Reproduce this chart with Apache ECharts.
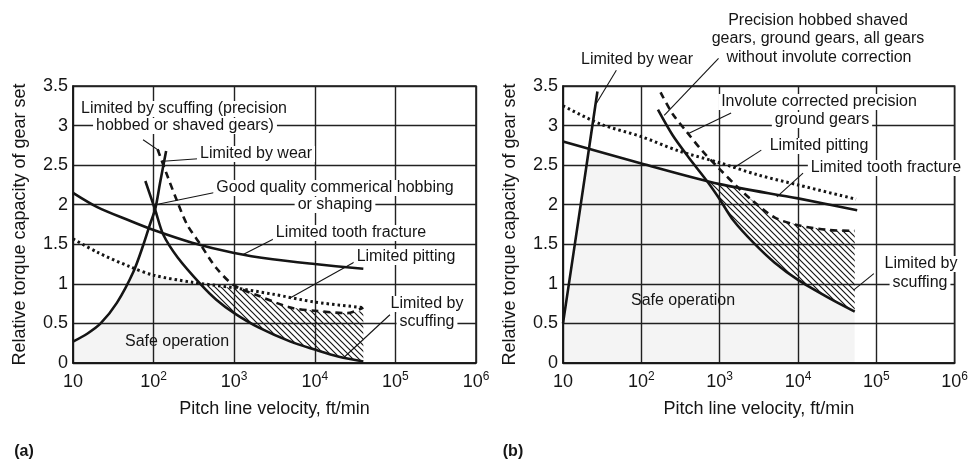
<!DOCTYPE html>
<html>
<head>
<meta charset="utf-8">
<script src="https://cdn.jsdelivr.net/npm/echarts@6/dist/echarts.min.js"></script>
<style>
  html, body { margin: 0; padding: 0; background: #fff; }
  #chart { width: 971px; height: 460px; }
</style>
</head>
<body>
<div id="chart"></div>
<script>
// x tick exponents (10^1 .. 10^6)
const xExponents = [1, 2, 3, 4, 5, 6];

// ---- panel (a) ----
const fractureA = [[10, 2.15], [20, 1.97], [50, 1.8], [100, 1.68], [300, 1.52], [1000, 1.39], [3000, 1.31], [10000, 1.25], [40000, 1.19]];
const pittingA = [[10, 1.57], [20, 1.4], [50, 1.22], [100, 1.11], [300, 1.02], [1000, 0.95], [3000, 0.87], [10000, 0.77], [40000, 0.7]];
const wearA = [[10, 0.27], [15, 0.37], [22, 0.5], [35, 0.76], [56, 1.15], [75, 1.5], [90, 1.75], [105, 1.95], [120, 2.27], [143, 2.68]];
const commercialA = [[79, 2.3], [105, 1.93], [132, 1.62], [200, 1.33], [380, 1.0], [600, 0.8], [1000, 0.63], [2000, 0.45], [5000, 0.27], [10000, 0.17], [20000, 0.08], [40000, 0.02]];
const precisionA = [[112, 2.7], [150, 2.35], [195, 2.05], [260, 1.75], [380, 1.5], [600, 1.2], [1000, 0.98], [2000, 0.85], [5000, 0.7], [10000, 0.66], [25000, 0.63], [40000, 0.7]];
const hatchA = [[415, 0.98], [1000, 0.95], [1300, 0.92], [2000, 0.85], [5000, 0.7], [10000, 0.66], [25000, 0.63], [40000, 0.66],
  [40000, 0.02], [20000, 0.08], [10000, 0.17], [5000, 0.27], [2000, 0.45], [1000, 0.63], [600, 0.8], [415, 0.97]];
const safeA = [[10, 0.27], [15, 0.37], [22, 0.5], [35, 0.76], [56, 1.15], [62, 1.19], [100, 1.11], [300, 1.02], [400, 0.99],
  [600, 0.8], [1000, 0.63], [2000, 0.45], [5000, 0.27], [10000, 0.17], [20000, 0.08], [40000, 0.02], [40000, 0], [10, 0]];

// ---- panel (b) ----
const fractureB = [[10, 2.8], [100, 2.52], [1000, 2.26], [10000, 2.08], [57000, 1.93]];
const pittingB = [[10, 3.25], [30, 3.02], [100, 2.86], [300, 2.68], [1000, 2.53], [3000, 2.38], [10000, 2.25], [55000, 2.07]];
const wearB = [[10, 0.5], [16.6, 1.96], [27.5, 3.43]];
const precisionB = [[163, 3.2], [250, 2.88], [400, 2.6], [700, 2.29], [1000, 2.07], [1500, 1.8], [2700, 1.52], [5000, 1.27], [10000, 1.05], [25000, 0.82], [53000, 0.65]];
const involuteB = [[176, 3.42], [250, 3.15], [380, 2.92], [600, 2.68], [1000, 2.45], [1700, 2.22], [2500, 2.07], [5000, 1.84], [10000, 1.74], [25000, 1.68], [53000, 1.67]];
const hatchB = [[710, 2.29], [1000, 2.26], [1700, 2.21], [2500, 2.07], [5000, 1.84], [10000, 1.74], [25000, 1.68], [53000, 1.67],
  [53000, 0.65], [25000, 0.82], [10000, 1.05], [5000, 1.27], [2700, 1.52], [1500, 1.8], [1000, 2.07], [710, 2.28]];
const safeB = [[10, 0.5], [21.4, 2.7], [100, 2.52], [710, 2.29], [1000, 2.07], [1500, 1.8], [2700, 1.52], [5000, 1.27],
  [10000, 1.05], [25000, 0.82], [53000, 0.65], [53000, 0], [10, 0]];

// leader lines (from label to curve), in data units
const leadersA = [[74, 2.82, 118, 2.68], [357, 2.58, 131, 2.55], [614, 2.16, 105, 2.0], [3400, 1.59, 1290, 1.37], [31500, 1.28, 4930, 0.82], [85500, 0.61, 22400, 0.06]];
const leadersB = [[968, 3.85, 196, 3.13], [48, 3.7, 26.6, 3.28], [1400, 3.16, 400, 2.9], [3400, 2.69, 1486, 2.46], [11600, 2.4, 5370, 2.1], [93000, 1.13, 51200, 0.92]];

const FONT = '"Liberation Sans", Arial, Helvetica, sans-serif';
const INK = '#151515';

// diagonal hatch tile for the scuffing bands
function hatchPattern() {
  const s = 6;
  const c = document.createElement('canvas');
  c.width = s; c.height = s;
  const g = c.getContext('2d');
  g.strokeStyle = '#151515';
  g.lineWidth = 1.15;
  g.beginPath();
  g.moveTo(-1, -1); g.lineTo(s + 1, s + 1);
  g.moveTo(-1, s - 1); g.lineTo(1, s + 1);
  g.moveTo(s - 1, -1); g.lineTo(s + 1, 1);
  g.stroke();
  return c;
}
const hatch = hatchPattern();

function xAxisFor(i) {
  return {
    type: 'log', logBase: 10, min: 10, max: 1e6, gridIndex: i,
    axisLine: { show: true, lineStyle: { color: INK, width: 1.5 } },
    axisTick: { show: false },
    splitLine: { show: true, lineStyle: { color: '#222', width: 1.4 } },
    axisLabel: {
      margin: 8, color: INK,
      formatter: function (v) {
        const e = Math.round(Math.log10(v));
        if (xExponents.indexOf(e) < 0) return '';
        return e === 1 ? '{b|10}' : '{b|10}{s|' + e + '}';
      },
      rich: {
        b: { fontSize: 18, fontFamily: FONT, color: INK, lineHeight: 22 },
        s: { fontSize: 12, fontFamily: FONT, color: INK, verticalAlign: 'top', lineHeight: 12 }
      }
    },
    name: 'Pitch line velocity, ft/min', nameLocation: 'middle', nameGap: 37,
    nameTextStyle: { fontSize: 18, fontFamily: FONT, color: INK }
  };
}
function yAxisFor(i) {
  return {
    type: 'value', min: 0, max: 3.5, interval: 0.5, gridIndex: i,
    axisLine: { show: true, lineStyle: { color: INK, width: 1.5 } },
    axisTick: { show: false },
    splitLine: { show: true, lineStyle: { color: '#222', width: 1.4 } },
    axisLabel: { fontSize: 18, fontFamily: FONT, color: INK, margin: 5 },
    name: 'Relative torque capacity of gear set', nameLocation: 'middle', nameRotate: 90, nameGap: 44,
    nameTextStyle: { fontSize: 18, fontFamily: FONT, color: INK }
  };
}

function region(pts, i, fill) {
  return {
    type: 'custom', xAxisIndex: i, yAxisIndex: i, silent: true, z: 1,
    data: pts,
    renderItem: function (params, api) {
      if (params.dataIndex !== 0) return null;
      return {
        type: 'polygon',
        shape: { points: pts.map(function (p) { return api.coord(p); }) },
        style: { fill: fill, stroke: null }
      };
    }
  };
}
function curve(pts, i, kind) {
  const ls = { color: INK, width: 2.6 };
  if (kind === 'dash') { ls.type = [7, 5]; }
  if (kind === 'dot') { ls.type = [2.5, 3]; ls.width = 3; }
  return {
    type: 'line', xAxisIndex: i, yAxisIndex: i, data: pts, symbol: 'none', smooth: 0.3,
    silent: true, z: 3, lineStyle: ls
  };
}
function leaders(list, i) {
  return {
    type: 'custom', xAxisIndex: i, yAxisIndex: i, silent: true, clip: false, z: 4,
    data: list.map(function (l) { return [l[0], l[1]]; }),
    renderItem: function (params, api) {
      const l = list[params.dataIndex];
      const a = api.coord([l[0], l[1]]);
      const b = api.coord([l[2], l[3]]);
      return { type: 'line', shape: { x1: a[0], y1: a[1], x2: b[0], y2: b[1] }, style: { stroke: INK, lineWidth: 1.1 } };
    }
  };
}

// label text and pixel placement [text, x, y, whiteBg]
const labels = [
  ['Limited by scuffing (precision', 184, 109, true],
  ['hobbed or shaved gears)', 185, 126, true],
  ['Limited by wear', 256, 154, true],
  ['Good quality commerical hobbing', 335, 188, true],
  ['or shaping', 335, 205, true],
  ['Limited tooth fracture', 351, 233, true],
  ['Limited pitting', 406, 257, true],
  ['Limited by', 427, 304, true],
  ['scuffing', 427, 322, true],
  ['Safe operation', 177, 342, false],
  ['Precision hobbed shaved', 818, 21, true],
  ['gears, ground gears, all gears', 818, 39, true],
  ['without involute correction', 819, 58, true],
  ['Limited by wear', 637, 60, true],
  ['Involute corrected precision', 819, 102, true],
  ['ground gears', 822, 120, true],
  ['Limited pitting', 819, 146, true],
  ['Limited tooth fracture', 886, 168, true],
  ['Limited by', 921, 264, true],
  ['scuffing', 920, 283, true],
  ['Safe operation', 683, 301, false]
];

const graphic = labels.map(function (l) {
  return {
    type: 'text', x: l[1], y: l[2], z: 100, silent: true,
    style: {
      text: l[0], fontSize: 16, fontFamily: FONT, fill: INK,
      align: 'center', verticalAlign: 'middle',
      backgroundColor: l[3] ? '#fff' : null, padding: [0, 3]
    }
  };
}).concat([
  { type: 'text', x: 24, y: 452, z: 100, style: { text: '(a)', fontSize: 16, fontWeight: 'bold', fontFamily: FONT, fill: INK, align: 'center', verticalAlign: 'middle' } },
  { type: 'text', x: 513, y: 452, z: 100, style: { text: '(b)', fontSize: 16, fontWeight: 'bold', fontFamily: FONT, fill: INK, align: 'center', verticalAlign: 'middle' } }
]);

const chart = echarts.init(document.getElementById('chart'));
const option = {
  animation: false,
  backgroundColor: '#fff',
  textStyle: { fontFamily: FONT },
  grid: [
    { left: 73, top: 86, width: 403, height: 277, show: true, borderColor: INK, borderWidth: 1.5, backgroundColor: 'transparent' },
    { left: 563, top: 86, width: 403, height: 277, show: true, borderColor: INK, borderWidth: 1.5, backgroundColor: 'transparent' }
  ],
  xAxis: [xAxisFor(0), xAxisFor(1)],
  yAxis: [yAxisFor(0), yAxisFor(1)],
  series: [
    region(safeA, 0, 'rgba(0,0,0,0.045)'),
    region(hatchA, 0, { image: hatch, repeat: 'repeat' }),
    curve(fractureA, 0, 'solid'),
    curve(pittingA, 0, 'dot'),
    curve(wearA, 0, 'solid'),
    curve(commercialA, 0, 'solid'),
    curve(precisionA, 0, 'dash'),
    leaders(leadersA, 0),
    region(safeB, 1, 'rgba(0,0,0,0.045)'),
    region(hatchB, 1, { image: hatch, repeat: 'repeat' }),
    curve(fractureB, 1, 'solid'),
    curve(pittingB, 1, 'dot'),
    curve(wearB, 1, 'solid'),
    curve(precisionB, 1, 'solid'),
    curve(involuteB, 1, 'dash'),
    leaders(leadersB, 1)
  ],
  graphic: graphic
};
chart.setOption(option);
window.addEventListener('resize', function () { chart.resize(); });
</script>
</body>
</html>
